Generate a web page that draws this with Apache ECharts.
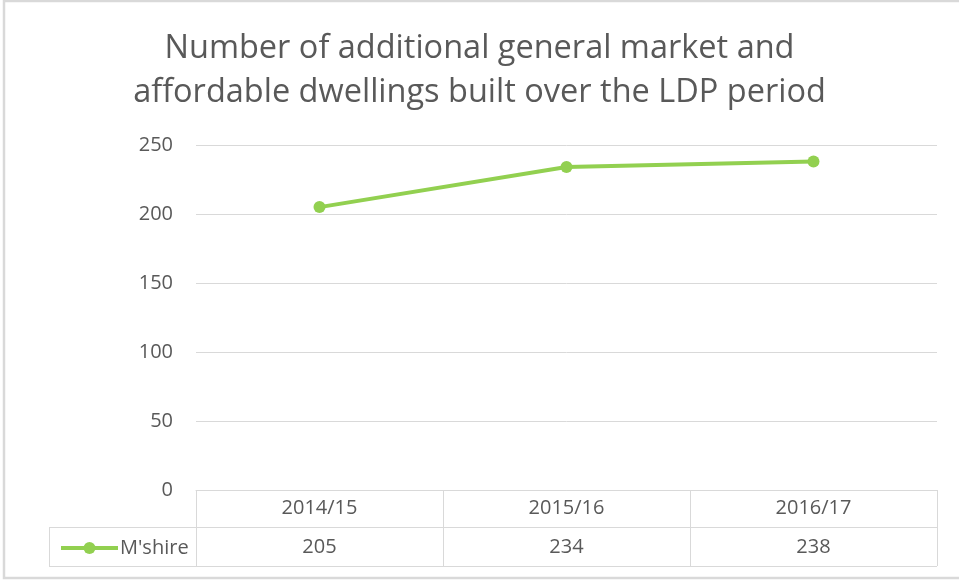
<!DOCTYPE html>
<html>
<head>
<meta charset="utf-8">
<script src="https://cdn.jsdelivr.net/npm/echarts@6/dist/echarts.min.js"></script>
<style>
  html, body { margin: 0; padding: 0; background: #fff; }
  #chart { width: 959px; height: 581px; }
</style>
</head>
<body>
<div id="chart"></div>
<script>
// 数据
const categories = ['2014/15', '2015/16', '2016/17'];
const seriesName = "M'shire";
const values = [205, 234, 238];

const FONT = '"Open Sans", "Noto Sans", sans-serif';
const TEXT_COLOR = '#595959';
const LINE_COLOR = '#d9d9d9';
const GREEN = '#92d050';

const chart = echarts.init(document.getElementById('chart'));

const option = {
    backgroundColor: '#fff',
    title: {
        text: 'Number of additional general market and\naffordable dwellings built over the LDP period',
        left: 'center',
        top: 22,
        textStyle: {
            fontFamily: FONT,
            fontSize: 32.5,
            fontWeight: 'normal',
            color: TEXT_COLOR,
            lineHeight: 44
        }
    },
    legend: {
        left: 54,
        top: 533,
        itemWidth: 57,
        itemHeight: 15,
        itemGap: 0,
        lineStyle: { width: 4 },
        textStyle: { fontFamily: FONT, fontSize: 20, color: TEXT_COLOR, padding: [0, 0, 0, -3] },
        data: [seriesName]
    },
    grid: {
        left: 196,
        right: 22,
        top: 145,
        bottom: 91,
        containLabel: false
    },
    xAxis: {
        type: 'category',
        data: categories,
        boundaryGap: true,
        axisLine: { show: true, lineStyle: { color: LINE_COLOR, width: 1 } },
        axisTick: { show: true, length: 76, lineStyle: { color: LINE_COLOR, width: 1 } },
        axisLabel: {
            margin: -1,
            fontFamily: FONT,
            fontSize: 20,
            color: TEXT_COLOR,
            lineHeight: 39,
            // 表格两行: 类别 + 数值
            formatter: function (val, idx) {
                return val + '\n' + values[idx];
            }
        }
    },
    yAxis: {
        type: 'value',
        min: 0,
        max: 250,
        interval: 50,
        axisLine: { show: false },
        axisTick: { show: false },
        axisLabel: { margin: 23, fontFamily: FONT, fontSize: 20, color: TEXT_COLOR },
        splitLine: { lineStyle: { color: LINE_COLOR, width: 1 } }
    },
    series: [{
        name: seriesName,
        type: 'line',
        data: values,
        symbol: 'circle',
        symbolSize: 12,
        lineStyle: { color: GREEN, width: 4 },
        itemStyle: { color: GREEN },
        emphasis: { disabled: true }
    }],
    graphic: [
        // 外框
        {
            type: 'rect',
            shape: { x: 4, y: 1, width: 1000, height: 577 },
            style: { fill: 'none', stroke: '#d9d9d9', lineWidth: 2.5 },
            silent: true
        },
        // 数据表格线
        {
            type: 'line',
            shape: { x1: 49, y1: 527.5, x2: 937, y2: 527.5 },
            style: { stroke: LINE_COLOR, lineWidth: 1 }
        },
        {
            type: 'line',
            shape: { x1: 49, y1: 566.5, x2: 937, y2: 566.5 },
            style: { stroke: LINE_COLOR, lineWidth: 1 }
        },
        {
            type: 'line',
            shape: { x1: 49.5, y1: 527, x2: 49.5, y2: 567 },
            style: { stroke: LINE_COLOR, lineWidth: 1 }
        }
    ]
};

chart.setOption(option);
</script>
</body>
</html>
